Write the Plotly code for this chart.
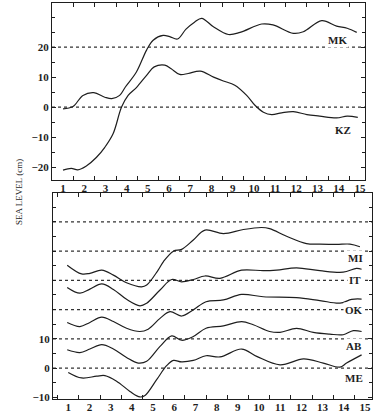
import plotly.graph_objects as go

# ---------------- data ----------------
x_ticks = list(range(1, 16))
top_y_ticks = [-20, -10, 0, 10, 20]
bot_y_ticks = [-10, 0, 10]
top_baselines = [0, 20]
bot_baselines = [0, 10, 20, 30, 40, 50]

MK_x = [1, 1.47, 1.94, 2.45, 2.97, 3.3, 3.67, 3.94, 4.46, 4.94, 5.25, 5.72, 6.03, 6.4, 6.8, 7.2, 7.54, 8.09, 8.8, 9.35, 10.37, 10.9, 11.86, 12.33, 13.2, 13.9, 14.4, 14.85]
MK_y = [-0.6, 0.2, 3.9, 4.8, 3.3, 2.8, 3.9, 6.7, 11.7, 19, 22.3, 23.9, 23.5, 22.7, 26, 28.3, 29.6, 26.8, 24.2, 24.9, 27.7, 27.4, 24.6, 25.1, 28.8, 27, 26.3, 24.9]

KZ_x = [1, 1.39, 1.7, 2.1, 2.57, 2.97, 3.36, 3.76, 4.07, 4.46, 4.94, 5.3, 5.8, 6.1, 6.5, 6.9, 7.47, 8.1, 8.56, 9.1, 9.66, 10.05, 10.45, 10.84, 11.31, 11.86, 12.5, 13.1, 13.9, 14.4, 14.9]
KZ_y = [-21, -20.4, -20.9, -19.6, -16.8, -13.4, -8.9, 0, 3.9, 6.5, 10.6, 13.4, 14, 12.8, 10.9, 11.2, 12, 10, 8.7, 7.3, 3.9, 0.6, -1.7, -2.5, -1.9, -1.5, -2.5, -3, -3.6, -3, -3.4]

MI_x = [0.95, 1.63, 2.02, 2.58, 3.13, 3.75, 4.46, 4.7, 5.24, 5.5, 5.96, 6.35, 6.9, 7.45, 8.32, 9.26, 10.12, 10.5, 11.3, 12.24, 12.87, 13.66, 14.29, 14.76]
MI_y = [35.2, 32.2, 32.4, 33.5, 31.8, 29.2, 27.8, 28.4, 33.5, 36.5, 40, 40.6, 43.8, 47.2, 46, 47.4, 48.1, 47.7, 45.1, 42.6, 42.4, 42.3, 42.4, 41.5]

IT_x = [0.95, 1.55, 2.02, 2.58, 3.13, 3.75, 4.38, 4.7, 5.33, 5.88, 6.35, 6.9, 7.45, 8.16, 9.18, 10.2, 10.83, 11.77, 12.87, 13.97, 14.6, 14.84]
IT_y = [27.6, 25.6, 27, 28.8, 26.9, 23.5, 21.3, 22.2, 26.7, 30.3, 29.5, 30.3, 31.5, 30.7, 33.5, 33.3, 33.5, 34.3, 33.3, 32.8, 34.1, 33.8]

OK_x = [0.95, 1.55, 2.02, 2.58, 3.13, 3.75, 4.38, 4.77, 5.33, 5.8, 6.35, 6.9, 7.5, 8.32, 9.18, 10.2, 11.77, 12.87, 13.82, 14.37, 14.84]
OK_y = [15.6, 14.2, 15.6, 17.4, 15.9, 13.6, 12.5, 13.3, 17, 19.3, 17.8, 19.9, 22.7, 23.3, 25.2, 24.4, 24.1, 23.1, 22.2, 23.5, 23.6]

AB_x = [0.95, 1.55, 2.02, 2.58, 3.13, 3.75, 4.3, 4.7, 5.33, 5.88, 6.35, 6.9, 7.5, 8.32, 9.18, 9.73, 10.5, 10.99, 11.77, 12.56, 13.34, 13.97, 14.45, 14.84]
AB_y = [6.25, 5.3, 6.5, 8, 6.5, 3.6, 1.7, 2.3, 7.4, 11, 9.5, 10.8, 13.6, 14.4, 15.9, 14.8, 12.5, 12.2, 13.6, 12.2, 11.6, 11.4, 12.8, 12.5]

ME_x = [1, 1.63, 2.34, 2.73, 3.28, 3.91, 4.38, 4.62, 5.17, 5.64, 5.96, 6.35, 6.9, 7.5, 8.16, 9.18, 9.89, 10.99, 12.1, 13.03, 13.82, 14.13, 14.84]
ME_y = [-1.5, -3.4, -2.8, -2.6, -4.5, -8, -9.9, -9.4, -4, 0.8, 2.6, 2.1, 2.6, 4.2, 3.8, 6.5, 4, 1.1, 3.1, 1.7, 0.3, 1.7, 4.5]

top_series = {"MK": (MK_x, MK_y), "KZ": (KZ_x, KZ_y)}
bot_series = {"MI": (MI_x, MI_y), "IT": (IT_x, IT_y), "OK": (OK_x, OK_y),
              "AB": (AB_x, AB_y), "ME": (ME_x, ME_y)}
top_labels = {"MK": (13.93, 22.3), "KZ": (14.2, -7.7)}
bot_labels = {"MI": (14.53, 37.6), "IT": (14.53, 30), "OK": (14.5, 20),
              "AB": (14.5, 7.4), "ME": (14.5, -3.3)}

# ---------------- figure ----------------
INK = "#1e1e1e"
FONT = "Liberation Serif"
W, H = 380, 413

fig = go.Figure()
for name, (xs, ys) in top_series.items():
    fig.add_trace(go.Scatter(x=xs, y=ys, mode="lines", name=name, xaxis="x", yaxis="y",
                             line=dict(color=INK, width=1.2, shape="spline", smoothing=1.0),
                             showlegend=False, hoverinfo="skip"))
for name, (xs, ys) in bot_series.items():
    fig.add_trace(go.Scatter(x=xs, y=ys, mode="lines", name=name, xaxis="x2", yaxis="y2",
                             line=dict(color=INK, width=1.2, shape="spline", smoothing=1.0),
                             showlegend=False, hoverinfo="skip"))

shapes = []
for b in top_baselines:
    shapes.append(dict(type="line", xref="x domain", yref="y", x0=0, x1=1, y0=b, y1=b,
                       line=dict(color="#333", width=1.3, dash="dot"), layer="below"))
for b in bot_baselines:
    shapes.append(dict(type="line", xref="x2 domain", yref="y2", x0=0, x1=1, y0=b, y1=b,
                       line=dict(color="#333", width=1.3, dash="dot"), layer="below"))

annotations = []
for name, (lx, ly) in top_labels.items():
    annotations.append(dict(x=lx, y=ly, xref="x", yref="y", text=name, showarrow=False,
                            bgcolor="white", borderpad=1,
                            font=dict(family=FONT, size=11, color=INK, weight="bold")))
for name, (lx, ly) in bot_labels.items():
    annotations.append(dict(x=lx, y=ly, xref="x2", yref="y2", text=name, showarrow=False,
                            bgcolor="white", borderpad=1,
                            font=dict(family=FONT, size=11, color=INK, weight="bold")))
annotations.append(dict(x=12 / W, y=1 - 192 / H, xref="paper", yref="paper",
                        text="SEA LEVEL (cm)", textangle=-90, showarrow=False,
                        font=dict(family=FONT, size=9, color=INK)))

tickfont = dict(family=FONT, size=11, color=INK, weight="bold")
xcommon = dict(tickmode="array", tickvals=x_ticks, ticktext=[str(v) for v in x_ticks],
               ticks="inside", ticklen=0, showgrid=False, zeroline=False,
               showline=True, linecolor=INK, linewidth=1.2, mirror="ticks",
               tickfont=tickfont, automargin=False, ticklabelstandoff=-2,
               minor=dict(tick0=0.5, dtick=1, ticks="inside", ticklen=4, tickcolor=INK, showgrid=False))
ycommon = dict(tickmode="array", ticks="inside", ticklen=4, tickcolor=INK,
               showgrid=False, zeroline=False, showline=True, linecolor=INK,
               linewidth=1.2, mirror="ticks", tickfont=tickfont, automargin=False,
               minor=dict(tick0=0, dtick=5, ticks="inside", ticklen=3, tickcolor=INK, showgrid=False))

fig.update_layout(
    width=W, height=H, margin=dict(l=0, r=0, t=0, b=0, autoexpand=False),
    paper_bgcolor="white", plot_bgcolor="white",
    xaxis=dict(xcommon, domain=[52 / W, 365 / W], range=[0.48, 15.24], anchor="y"),
    yaxis=dict(ycommon, domain=[1 - 180 / H, 1 - 3 / H], range=[-24.3, 34.7],
               tickvals=top_y_ticks, anchor="x"),
    xaxis2=dict(xcommon, domain=[53 / W, 372 / W], range=[0.28, 15.33], anchor="y2"),
    yaxis2=dict(ycommon, domain=[1 - 399 / H, 1 - 193 / H], range=[-10.6, 59.9],
                tickvals=bot_y_ticks, anchor="x2"),
    shapes=shapes, annotations=annotations,
)

fig.write_html("out.html", config={"displayModeBar": False},
               post_script="document.body.style.margin='0';document.body.style.overflow='hidden';")
